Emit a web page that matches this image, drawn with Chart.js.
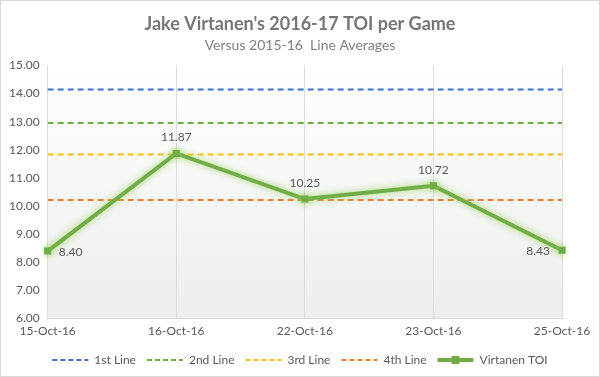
<!DOCTYPE html>
<html>
<head>
<meta charset="utf-8">
<script src="https://cdn.jsdelivr.net/npm/chart.js@4"></script>
<style>
  html, body { margin: 0; padding: 0; background: #fff; }
  #wrap { width: 598px; height: 375px; border: 1px solid #d9d9d9; }
</style>
</head>
<body>
<div id="wrap"><canvas id="grafica" width="598" height="375"></canvas></div>
<script>
"use strict";
const fechas = ["15-Oct-16", "16-Oct-16", "22-Oct-16", "23-Oct-16", "25-Oct-16"];
const toiVirtanen = [8.40, 11.87, 10.25, 10.72, 8.43];
const nombresLineas = ["1st Line", "2nd Line", "3rd Line", "4th Line"];
const promediosLineas = [14.14, 12.95, 11.83, 10.22];
const coloresLineas = ["#4472C4", "#70AD47", "#FFC000", "#ED7D31"];
const labelPos = ["right", "top", "top", "top", "left"];

const gris = "#595959";

const lineasDatasets = nombresLineas.map((nombre, i) => ({
    label: nombre,
    data: fechas.map(() => promediosLineas[i]),
    borderColor: coloresLineas[i],
    backgroundColor: coloresLineas[i],
    borderWidth: 2,
    borderDash: [6, 4],
    pointRadius: 0,
    pointStyle: "line",
}));

// fondo degradado del area de la grafica
const fondoPlugin = {
    id: "fondo",
    beforeDraw(chart) {
        const { ctx, chartArea: a } = chart;
        const g = ctx.createLinearGradient(0, a.top, 0, a.bottom);
        g.addColorStop(0, "#ffffff");
        g.addColorStop(1, "#ededed");
        ctx.save();
        ctx.fillStyle = g;
        ctx.fillRect(a.left, a.top, a.right - a.left, a.bottom - a.top);
        ctx.restore();
    }
};

// brillo verde alrededor de la serie
const brilloPlugin = {
    id: "brillo",
    beforeDatasetDraw(chart, args) {
        if (args.index !== 4) return;
        chart.ctx.save();
        chart.ctx.shadowColor = "rgba(146, 208, 80, 0.9)";
        chart.ctx.shadowBlur = 7;
    },
    afterDatasetDraw(chart, args) {
        if (args.index !== 4) return;
        chart.ctx.restore();
    }
};

// etiquetas de datos
const etiquetasPlugin = {
    id: "etiquetas",
    afterDatasetsDraw(chart) {
        const { ctx } = chart;
        const meta = chart.getDatasetMeta(4);
        ctx.save();
        ctx.font = "12px Lato";
        ctx.fillStyle = gris;
        meta.data.forEach((pt, i) => {
            const txt = toiVirtanen[i].toFixed(2);
            const pos = labelPos[i];
            if (pos === "top") {
                ctx.textAlign = "center";
                ctx.textBaseline = "bottom";
                ctx.fillText(txt, pt.x, pt.y - 10);
            } else if (pos === "right") {
                ctx.textAlign = "left";
                ctx.textBaseline = "middle";
                ctx.fillText(txt, pt.x + 11, pt.y + 1);
            } else {
                ctx.textAlign = "right";
                ctx.textBaseline = "middle";
                ctx.fillText(txt, pt.x - 12, pt.y + 1);
            }
        });
        ctx.restore();
    },
    afterDraw(chart) {
        // marcador cuadrado en la leyenda de la serie
        const box = chart.legend.legendHitBoxes[4];
        if (!box) return;
        const { ctx } = chart;
        ctx.save();
        ctx.fillStyle = "#70AD47";
        const cx = box.left + 18;
        const cy = box.top + box.height / 2;
        ctx.fillRect(cx - 4, cy - 4, 8, 8);
        ctx.restore();
    }
};

new Chart(document.querySelector("#grafica"), {
    type: "line",
    data: {
        labels: fechas,
        datasets: [
            ...lineasDatasets,
            {
                label: "Virtanen TOI",
                data: toiVirtanen,
                borderColor: "#70AD47",
                backgroundColor: "#70AD47",
                borderWidth: 4,
                pointStyle: "rect",
                pointRadius: 5,
                pointBorderWidth: 0,
                order: -1,
            },
        ],
    },
    options: {
        responsive: false,
        animation: false,
        layout: { padding: { left: 0, right: 0, top: 0, bottom: 0 } },
        plugins: {
            title: {
                display: true,
                text: "Jake Virtanen's 2016-17 TOI per Game",
                color: "#767676",
                font: { family: "Lato", size: 18, weight: "bold" },
                padding: { top: 12, bottom: 2 },
            },
            subtitle: {
                display: true,
                text: "Versus 2015-16  Line Averages",
                color: "#7f7f7f",
                font: { family: "Lato", size: 14 },
                padding: { bottom: 12 },
            },
            legend: {
                position: "bottom",
                labels: {
                    usePointStyle: true,
                    pointStyleWidth: 36,
                    boxHeight: 2,
                    color: gris,
                    font: { family: "Lato", size: 12 },
                    padding: 11,
                    generateLabels(chart) {
                        return chart.data.datasets.map((ds, i) => ({
                            text: ds.label,
                            fillStyle: ds.borderColor,
                            strokeStyle: ds.borderColor,
                            lineWidth: i === 4 ? 4 : 2,
                            lineDash: i === 4 ? [] : [5, 3],
                            pointStyle: "line",
                            datasetIndex: i,
                            fontColor: gris,
                        }));
                    },
                },
            },
            tooltip: { enabled: false },
        },
        scales: {
            x: {
                offset: false,
                grid: { display: true, color: "#dcdcdc", drawTicks: false },
                border: { display: true, color: "#d9d9d9" },
                ticks: {
                    color: gris,
                    font: { family: "Lato", size: 12 },
                    padding: 5,
                    maxRotation: 0,
                },
            },
            y: {
                min: 6,
                max: 15,
                grid: { display: false, drawTicks: false },
                border: { display: false },
                ticks: {
                    stepSize: 1,
                    color: gris,
                    font: { family: "Lato", size: 12 },
                    padding: 8,
                    callback: (v) => Number(v).toFixed(2),
                },
            },
            // eje derecho vacio solo para dejar margen
            margen: {
                position: "right",
                min: 6,
                max: 15,
                grid: { display: false, drawTicks: false },
                border: { display: false },
                ticks: { display: false },
                afterFit(scale) {
                    scale.width = 37;
                },
            },
        },
    },
    plugins: [fondoPlugin, brilloPlugin, etiquetasPlugin],
});
</script>
</body>
</html>
